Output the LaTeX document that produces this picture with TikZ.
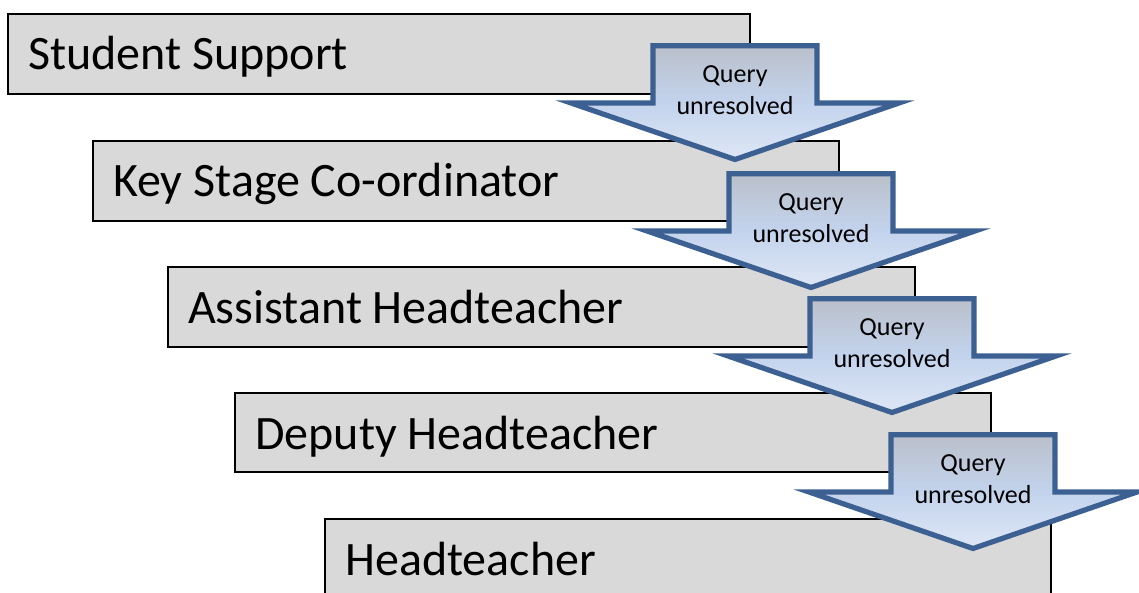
\documentclass[tikz,border=0pt]{standalone}
\usepackage{fontspec}
\setmainfont{Carlito}
\usetikzlibrary{calc}
\definecolor{boxfill}{HTML}{D9D9D9}
\definecolor{arrline}{RGB}{60,96,145}
\definecolor{arrtop}{RGB}{186,192,202}
\definecolor{arrmid}{RGB}{195,211,237}
\definecolor{arrbot}{RGB}{222,231,245}
\tikzset{
  stagebox/.style={draw=black, line width=1.6pt, fill=boxfill, anchor=north west, inner sep=0pt},
  stagetext/.style={anchor=base west, inner sep=0pt, font=\fontsize{48}{58}\selectfont},
  qarrow/.style={draw=arrline, line width=5.2pt, line join=miter, top color=arrtop, bottom color=arrbot, middle color=arrmid},
  qtext/.style={align=center, inner sep=0pt, font=\fontsize{26}{32}\selectfont}
}
\newcommand\queryarrow[3]{%
  \begin{scope}[shift={(#2,#3)}]
    \coordinate (#1-a) at (-82,2.7);
    \coordinate (#1-b) at (82,2.7);
    \coordinate (#1-c) at (82,60);
    \coordinate (#1-d) at (164,60);
    \coordinate (#1-e) at (0,116.5);
    \coordinate (#1-f) at (-164,60);
    \coordinate (#1-g) at (-82,60);
    \path[qarrow] (#1-a) -- (#1-b) -- (#1-c) -- (#1-d) -- (#1-e) -- (#1-f) -- (#1-g) -- cycle;
    \node[qtext] (#1-t) at (0,47.5) {Query\\unresolved};
  \end{scope}}
\begin{document}
\begin{tikzpicture}[x=1pt,y=-1pt]
\useasboundingbox (0,0) rectangle (1139,593);
\clip (0,0) rectangle (1139,593);
\node[stagebox, minimum width=742pt, minimum height=80pt] (b1) at (7,13) {};
\node[stagebox, minimum width=746pt, minimum height=80pt] (b2) at (92,140) {};
\node[stagebox, minimum width=747pt, minimum height=80pt] (b3) at (167,266) {};
\node[stagebox, minimum width=756pt, minimum height=79pt] (b4) at (234,392) {};
\node[stagebox, minimum width=726pt, minimum height=90pt] (b5) at (324,518) {};
\node[stagetext] (t1) at ($(b1.north west)+(21,57)$) {Student Support};
\node[stagetext] (t2) at ($(b2.north west)+(21,57)$) {Key Stage Co-ordinator};
\node[stagetext] (t3) at ($(b3.north west)+(21,57)$) {Assistant Headteacher};
\node[stagetext] (t4) at ($(b4.north west)+(21,57)$) {Deputy Headteacher};
\node[stagetext] (t5) at ($(b5.north west)+(21,57)$) {Headteacher};
\queryarrow{q1}{735}{43}
\queryarrow{q2}{811}{171}
\queryarrow{q3}{892}{296}
\queryarrow{q4}{973}{432}
\end{tikzpicture}
\end{document}
